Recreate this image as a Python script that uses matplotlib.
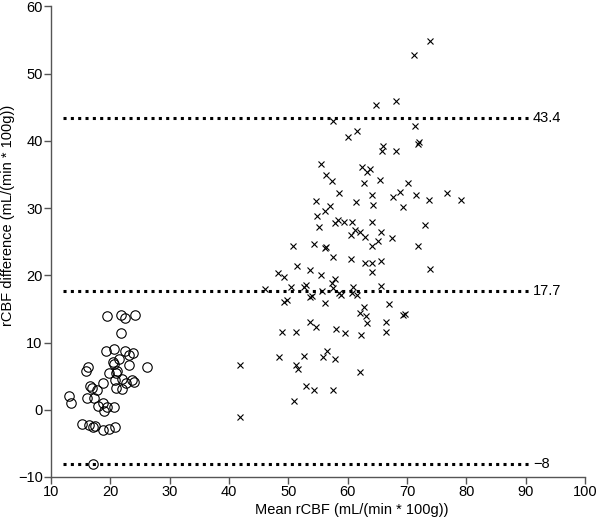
import numpy as np
import matplotlib.pyplot as plt

plt.rcParams["font.family"] = ["Liberation Sans", "DejaVu Sans"]

# low-flow group (circles)
circle_x = [19.5, 21.8, 22.4, 24.2, 21.75, 20.7, 19.2, 22.4, 23.8, 23.2,
            21.5, 20.4, 20.6, 23.2, 26.2, 16.3, 15.9, 21.2, 19.7, 20.9,
            22.0, 20.8, 23.6, 24.0, 22.6, 18.7, 16.5, 16.9, 17.7, 21.0,
            21.9, 13.0, 13.4, 16.0, 17.3, 18.8, 17.9, 19.4, 20.6, 18.9,
            15.2, 16.4, 17.4, 17.1, 18.8, 19.7, 20.8, 17.0]
circle_y = [13.9, 14.1, 13.6, 14.1, 11.4, 9.1, 8.8, 8.8, 8.5, 8.1,
            7.5, 7.1, 6.8, 6.7, 6.4, 6.4, 5.7, 5.8, 5.5, 5.5,
            4.6, 4.4, 4.4, 4.2, 4.0, 4.0, 3.5, 3.3, 3.0, 3.2,
            3.1, 2.0, 1.0, 1.8, 1.7, 1.0, 0.5, 0.4, 0.4, -0.2,
            -2.1, -2.3, -2.4, -2.5, -3.0, -2.9, -2.6, -8.0]

# high-flow group (crosses)
cross_x = [73.9, 71.1, 64.7, 68.1, 57.6, 71.3, 60.1, 61.5, 66.0, 65.8,
           68.1, 71.8, 72.0, 55.5, 62.4, 63.2, 63.7, 56.3, 65.4, 57.4,
           62.7, 70.2, 58.6, 64.1, 67.6, 68.8, 71.6, 76.8, 73.7, 79.1,
           54.6, 61.4, 57.0, 64.2, 69.4, 56.1, 54.9, 57.9, 58.3, 59.3,
           60.7, 64.1, 73.1, 55.1, 61.3, 62.0, 60.6, 63.0, 65.7, 67.5,
           65.1, 64.1, 50.8, 54.4, 56.2, 56.4, 71.8, 57.6, 60.5, 63.0,
           64.1, 65.6, 51.4, 53.7, 55.5, 64.1, 48.3, 73.9, 49.3, 57.9,
           57.3, 50.5, 52.9, 52.6, 57.6, 60.9, 65.7, 46.1, 55.6, 58.5,
           58.9, 60.7, 61.6, 53.7, 54.0, 49.7, 49.3, 56.2, 62.7, 67.0,
           62.0, 63.1, 69.4, 69.7, 63.3, 66.5, 66.5, 53.6, 54.6, 49.0,
           51.3, 58.0, 59.5, 62.2, 56.5, 55.8, 52.7, 48.4, 57.9, 41.9,
           51.3, 51.7, 62.0, 53.0, 54.4, 57.6, 51.0, 41.9]
cross_y = [54.8, 52.8, 45.4, 45.9, 43.0, 42.2, 40.6, 41.4, 39.2, 38.5,
           38.5, 39.5, 39.8, 36.6, 36.1, 35.4, 35.8, 35.0, 34.2, 34.0,
           33.7, 33.7, 32.3, 31.9, 31.6, 32.4, 32.0, 32.3, 31.2, 31.2,
           31.0, 30.9, 30.3, 30.5, 30.1, 29.6, 28.8, 27.8, 28.2, 28.0,
           28.0, 28.0, 27.5, 27.2, 26.8, 26.5, 26.0, 25.7, 26.4, 25.6,
           25.1, 24.3, 24.3, 24.6, 24.0, 24.2, 24.3, 22.8, 22.4, 21.9,
           21.9, 22.1, 21.4, 20.8, 20.0, 20.5, 20.4, 20.9, 19.8, 19.4,
           18.9, 18.3, 18.5, 18.2, 18.1, 18.3, 18.4, 18.0, 17.6, 17.4,
           17.1, 17.3, 17.0, 16.8, 16.9, 16.4, 16.0, 15.9, 15.3, 15.7,
           14.4, 13.9, 14.1, 14.3, 12.9, 13.1, 11.6, 13.1, 12.3, 11.6,
           11.6, 12.0, 11.4, 11.1, 8.8, 7.9, 8.0, 7.9, 7.5, 6.6,
           6.7, 6.0, 5.6, 3.6, 3.0, 3.0, 1.3, -1.1]

# mean difference and limits of agreement
limit_values = [43.4, 17.7, -8]
limit_labels = ["43.4", "17.7", "\u22128"]

fig = plt.figure(figsize=(6.0, 5.19), dpi=100)
ax = fig.add_axes([0.085, 0.081, 0.89, 0.9065])

ax.plot(circle_x, circle_y, linestyle="none", marker="o", markersize=6.8,
        markerfacecolor="none", markeredgecolor="black", markeredgewidth=0.8)
ax.plot(cross_x, cross_y, linestyle="none", marker="x", markersize=5,
        color="black", markeredgewidth=0.8)

for val, lab in zip(limit_values, limit_labels):
    ax.plot([12, 90.5], [val, val], color="black", linewidth=2.2,
            linestyle=(0, (1, 1.4)), dash_capstyle="butt")
    ax.text(91.2, val, lab, ha="left", va="center", fontsize=10.5)

ax.set_xlim(10, 100)
ax.set_ylim(-10, 60)
ax.set_xticks(np.arange(10, 101, 10))
ax.set_yticks(np.arange(-10, 61, 10))

for side in ["top", "right"]:
    ax.spines[side].set_visible(False)
for side in ["left", "bottom"]:
    ax.spines[side].set_color("#555555")
    ax.spines[side].set_linewidth(1.0)
ax.tick_params(direction="out", length=5, width=1.0, color="#555555",
               labelsize=10.5, pad=1)

ax.set_xlabel("Mean rCBF (mL/(min * 100g))", fontsize=10.5, labelpad=1)
ax.set_ylabel("rCBF difference (mL/(min * 100g))", fontsize=10.5, labelpad=3)
ax.xaxis.set_label_coords(0.564, -0.055)
ax.yaxis.set_label_coords(-0.068, 0.557)

fig.savefig("out.png", dpi=100)
